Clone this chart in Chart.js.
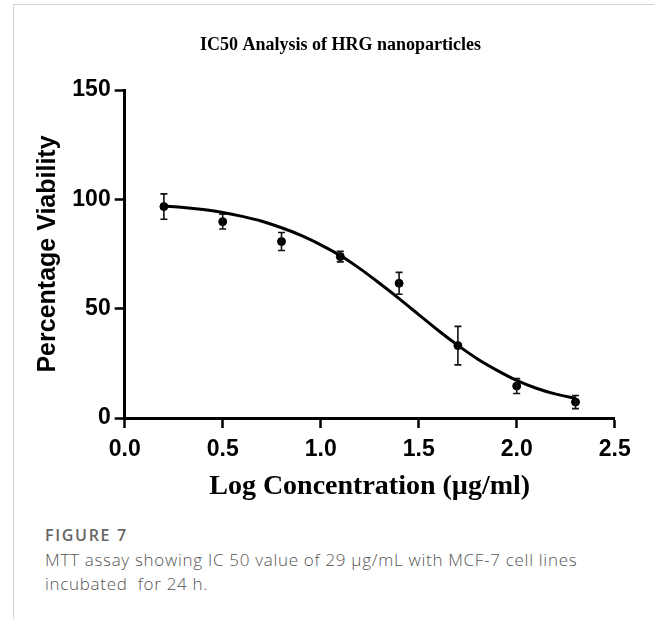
<!DOCTYPE html>
<html>
<head>
<meta charset="utf-8">
<script src="https://cdn.jsdelivr.net/npm/chart.js@4.4.1/dist/chart.umd.min.js"></script>
<style>
  html, body { margin:0; padding:0; background:#fff; }
  body { width:654px; height:619px; position:relative; overflow:hidden; }
  .frame { position:absolute; left:13px; top:4px; right:0; bottom:0; border-top:1.5px solid #d4d4d4; border-left:1.5px solid #d4d4d4; }
  #chartIC50 { position:absolute; left:0; top:0; }
  .fig-label { position:absolute; left:45px; top:523px; font-family:'Open Sans',sans-serif; font-weight:600; font-size:16px; line-height:24px; letter-spacing:1.7px; color:#666; }
  .fig-caption { position:absolute; left:45px; top:548px; font-family:'Open Sans',sans-serif; font-weight:300; font-size:17px; line-height:24px; color:#555; white-space:nowrap; letter-spacing:0.7px; }
</style>
</head>
<body>
<div class="frame"></div>
<canvas id="chartIC50" width="654" height="510"></canvas>
<div class="fig-label">FIGURE 7</div>
<div class="fig-caption">MTT assay showing IC 50 value of 29 µg/mL with MCF-7 cell lines<br>incubated&nbsp; for 24 h.</div>
<script>
// measured points (mean ± SD)
const doseLog = [0.2, 0.5, 0.8, 1.1, 1.4, 1.7, 2.0, 2.3];
const viability = [96.7, 89.8, 80.7, 73.8, 61.6, 33.1, 14.6, 7.3];
const viabilityErr = [5.8, 3.4, 4.1, 2.4, 5.0, 8.8, 3.4, 3.0];

// fitted curve
const fitLog = [0.2, 0.3, 0.4, 0.5, 0.6, 0.7, 0.8, 0.9, 1.0, 1.1, 1.2, 1.3, 1.4, 1.5, 1.6, 1.7, 1.8, 1.9, 2.0, 2.1, 2.2, 2.3];
const fitViability = [97, 96.3, 95.3, 94, 92.2, 90, 87, 83.5, 79.2, 74.3, 68.3, 61.6, 54.6, 47.3, 40, 33.2, 27, 21.8, 17.2, 13.6, 10.9, 9];

const xTicks = [0, 0.5, 1.0, 1.5, 2.0, 2.5];
const yTicks = [0, 50, 100, 150];

const SANS = "'Liberation Sans', Arial, sans-serif";
const SERIF = "'Liberation Serif', 'Times New Roman', serif";

// error bars drawn through the scales
const errorBars = {
  id: 'errorBars',
  afterDatasetsDraw(chart) {
    const { ctx, scales: { x, y } } = chart;
    ctx.save();
    ctx.strokeStyle = '#111';
    ctx.lineWidth = 1.6;
    doseLog.forEach((d, i) => {
      const px = x.getPixelForValue(d);
      const top = y.getPixelForValue(viability[i] + viabilityErr[i]);
      const bot = y.getPixelForValue(viability[i] - viabilityErr[i]);
      ctx.beginPath();
      ctx.moveTo(px, top); ctx.lineTo(px, bot);
      ctx.moveTo(px - 3.5, top); ctx.lineTo(px + 3.5, top);
      ctx.moveTo(px - 3.5, bot); ctx.lineTo(px + 3.5, bot);
      ctx.stroke();
    });
    ctx.restore();
  }
};

new Chart(document.getElementById('chartIC50'), {
  type: 'scatter',
  data: {
    datasets: [
      {
        type: 'line',
        data: fitLog.map((v, i) => ({ x: v, y: fitViability[i] })),
        borderColor: '#000',
        borderWidth: 3,
        pointRadius: 0,
        cubicInterpolationMode: 'monotone',
        fill: false,
        order: 2
      },
      {
        data: doseLog.map((v, i) => ({ x: v, y: viability[i] })),
        backgroundColor: '#000',
        borderColor: '#000',
        pointRadius: 4,
        order: 1
      }
    ]
  },
  options: {
    responsive: false,
    animation: false,
    devicePixelRatio: 1,
    layout: { padding: { left: 30, right: 3, top: 34.7, bottom: 6 } },
    plugins: {
      legend: { display: false },
      tooltip: { enabled: false },
      title: {
        display: true,
        text: 'IC50 Analysis of HRG nanoparticles',
        color: '#000',
        font: { family: SERIF, size: 18, weight: 'bold' },
        padding: { top: 0, bottom: 33.7 }
      }
    },
    scales: {
      x: {
        type: 'linear',
        min: 0, max: 2.5,
        afterBuildTicks: s => { s.ticks = xTicks.map(v => ({ value: v })); },
        afterFit: s => { s.height = 86; s.paddingRight = 39.3; },
        ticks: {
          color: '#000', padding: 8,
          font: { family: SANS, size: 23, weight: 'bold' },
          callback: v => Number(v).toFixed(1)
        },
        grid: { drawOnChartArea: false, drawTicks: true, tickLength: 10, tickWidth: 2.5, tickColor: '#000' },
        border: { display: true, color: '#000', width: 3 },
        title: {
          display: true,
          text: 'Log Concentration (µg/ml)',
          color: '#000',
          font: { family: SERIF, size: 28, weight: 'bold' },
          padding: { top: 4, bottom: 0 }
        }
      },
      y: {
        min: 0, max: 150,
        afterBuildTicks: s => { s.ticks = yTicks.map(v => ({ value: v })); },
        afterFit: s => { s.width = 94.7; },
        ticks: {
          color: '#000', padding: 4,
          font: { family: SANS, size: 23, weight: 'bold' }
        },
        grid: { drawOnChartArea: false, drawTicks: true, tickLength: 10, tickWidth: 2.5, tickColor: '#000' },
        border: { display: true, color: '#000', width: 3 },
        title: {
          display: true,
          text: 'Percentage Viability',
          color: '#000',
          font: { family: SANS, size: 25, weight: 'bold' },
          padding: { top: 3, bottom: 0 }
        }
      }
    }
  },
  plugins: [errorBars]
});
</script>
</body>
</html>
